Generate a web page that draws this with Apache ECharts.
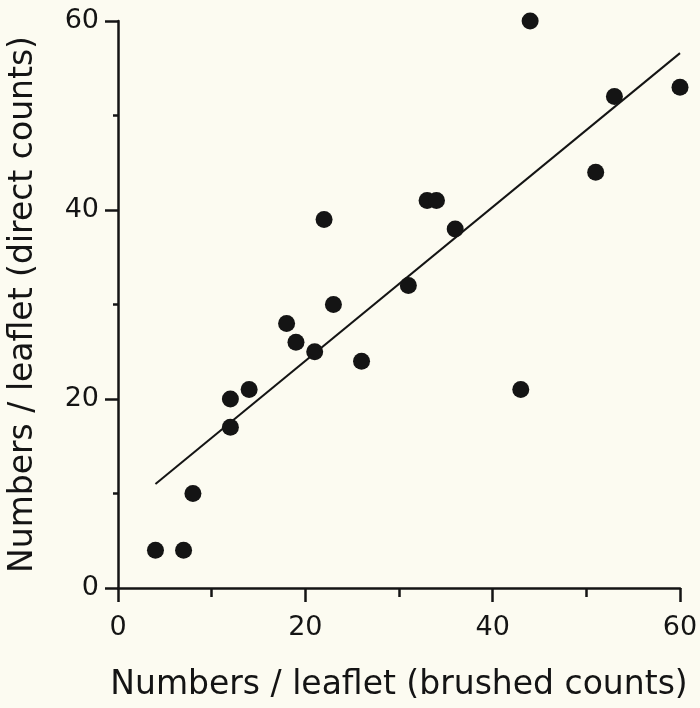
<!DOCTYPE html>
<html>
<head>
<meta charset="utf-8">
<script src="https://cdn.jsdelivr.net/npm/echarts@6/dist/echarts.min.js"></script>
<style>html,body{margin:0;padding:0;background:#fcfbf1;}#chart{width:700px;height:708px;}</style>
</head>
<body>
<div id="chart"></div>
<script>
const brushedCounts = [4, 7, 8, 12, 12, 14, 18, 19, 21, 22, 23, 26, 31, 33, 34, 36, 43, 44, 51, 53, 60];
const directCounts  = [4, 4, 10, 20, 17, 21, 28, 26, 25, 39, 30, 24, 32, 41, 41, 38, 21, 60, 44, 52, 53];
const fitX = [4, 60];
const fitY = [11.0, 56.6];
const xTitle = 'Numbers / leaflet (brushed counts)';
const yTitle = 'Numbers / leaflet (direct counts)';

const chart = echarts.init(document.getElementById('chart'));
const ink = '#141414';
const font = 'DejaVu Sans, sans-serif';
function axis(name, gap, margin, majorLen, minorLen) {
  return {
    type: 'value', min: 0, max: 60, interval: 20,
    name: name, nameLocation: 'middle', nameGap: gap,
    nameTextStyle: {color: ink, fontSize: 33, fontFamily: font},
    axisLine: {show: true, lineStyle: {color: ink, width: 2.5}},
    axisTick: {show: true, length: majorLen, lineStyle: {color: ink, width: 2.5}},
    minorTick: {show: true, splitNumber: 2, length: minorLen, lineStyle: {color: ink, width: 2.5}},
    splitLine: {show: false},
    axisLabel: {color: ink, fontSize: 27, fontFamily: font, margin: margin}
  };
}
chart.setOption({
  backgroundColor: '#fcfbf1',
  animation: false,
  grid: {left: 118, right: 20, top: 21, bottom: 120, containLabel: false, outerBoundsMode: 'none'},
  xAxis: axis(xTitle, 81, 26, 14, 9),
  yAxis: axis(yTitle, 78, 19, 13, 5),
  series: [
    {
      type: 'line', data: fitX.map((x, i) => [x, fitY[i]]),
      showSymbol: false, symbol: 'none',
      lineStyle: {color: ink, width: 2}
    },
    {
      type: 'scatter', data: brushedCounts.map((x, i) => [x, directCounts[i]]),
      symbol: 'circle', symbolSize: 17,
      itemStyle: {color: ink, opacity: 1}
    }
  ]
});
</script>
</body>
</html>
